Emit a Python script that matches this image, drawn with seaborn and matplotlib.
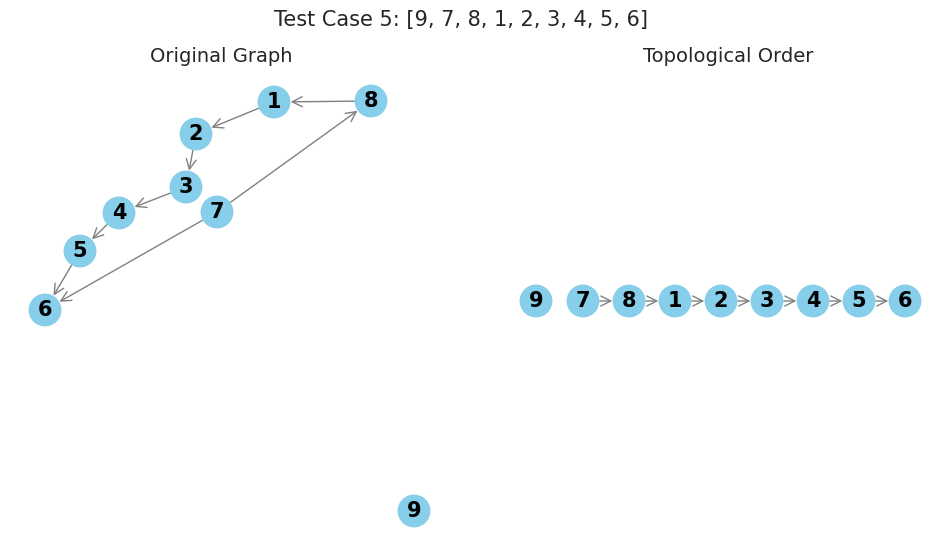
import matplotlib
matplotlib.use("Agg")
import matplotlib.pyplot as plt
import seaborn as sns
import pandas as pd

sns.set_theme(style="white")
plt.rcParams['font.family'] = ['DejaVu Sans']

# node layout (pixels in the picture)
left_nodes = [1, 8, 2, 3, 4, 7, 5, 6, 9]
left_x = [274, 371, 196, 186, 119, 217, 80, 45, 414]
left_y = [102, 101, 134, 187, 213, 212, 251, 310, 511]
left_edges = [(8, 1), (1, 2), (2, 3), (3, 4), (4, 5), (5, 6), (7, 8), (7, 6)]

order = [9, 7, 8, 1, 2, 3, 4, 5, 6]
right_x = [536, 583, 629, 675, 721, 767, 813, 859, 905]
right_y = [301] * 9
right_edges = [(7, 8), (8, 1), (1, 2), (2, 3), (3, 4), (4, 5), (5, 6)]

W, H = 950, 542
fig = plt.figure(figsize=(9.5, 5.42), dpi=100)
ax = fig.add_axes([0, 0, 1, 1])
ax.set_xlim(0, W)
ax.set_ylim(H, 0)
ax.axis("off")


def draw(nodes, xs, ys, edges):
    df = pd.DataFrame({"node": nodes, "x": xs, "y": ys})
    pos = {n: (x, y) for n, x, y in zip(nodes, xs, ys)}
    for a, b in edges:
        ax.annotate("", xy=pos[b], xytext=pos[a],
                    arrowprops=dict(arrowstyle="->,head_length=0.6,head_width=0.3",
                                    color="gray", lw=1, shrinkA=12, shrinkB=12,
                                    mutation_scale=12))
    sns.scatterplot(data=df, x="x", y="y", s=560, color="skyblue",
                    edgecolor="none", ax=ax, zorder=3)
    for n, x, y in zip(nodes, xs, ys):
        ax.text(x, y, str(n), ha="center", va="center", fontsize=15,
                fontweight="bold", color="black", zorder=4)


draw(left_nodes, left_x, left_y, left_edges)
draw(order, right_x, right_y, right_edges)
ax.set_xlabel("")
ax.set_ylabel("")

fig.text(0.485, 1 - 20 / H, "Test Case 5: [9, 7, 8, 1, 2, 3, 4, 5, 6]",
         ha="center", va="center", fontsize=15)
fig.text(221 / W, 1 - 56 / H, "Original Graph", ha="center", va="center", fontsize=14)
fig.text(728 / W, 1 - 56 / H, "Topological Order", ha="center", va="center", fontsize=14)

fig.savefig("out.png", dpi=100)
